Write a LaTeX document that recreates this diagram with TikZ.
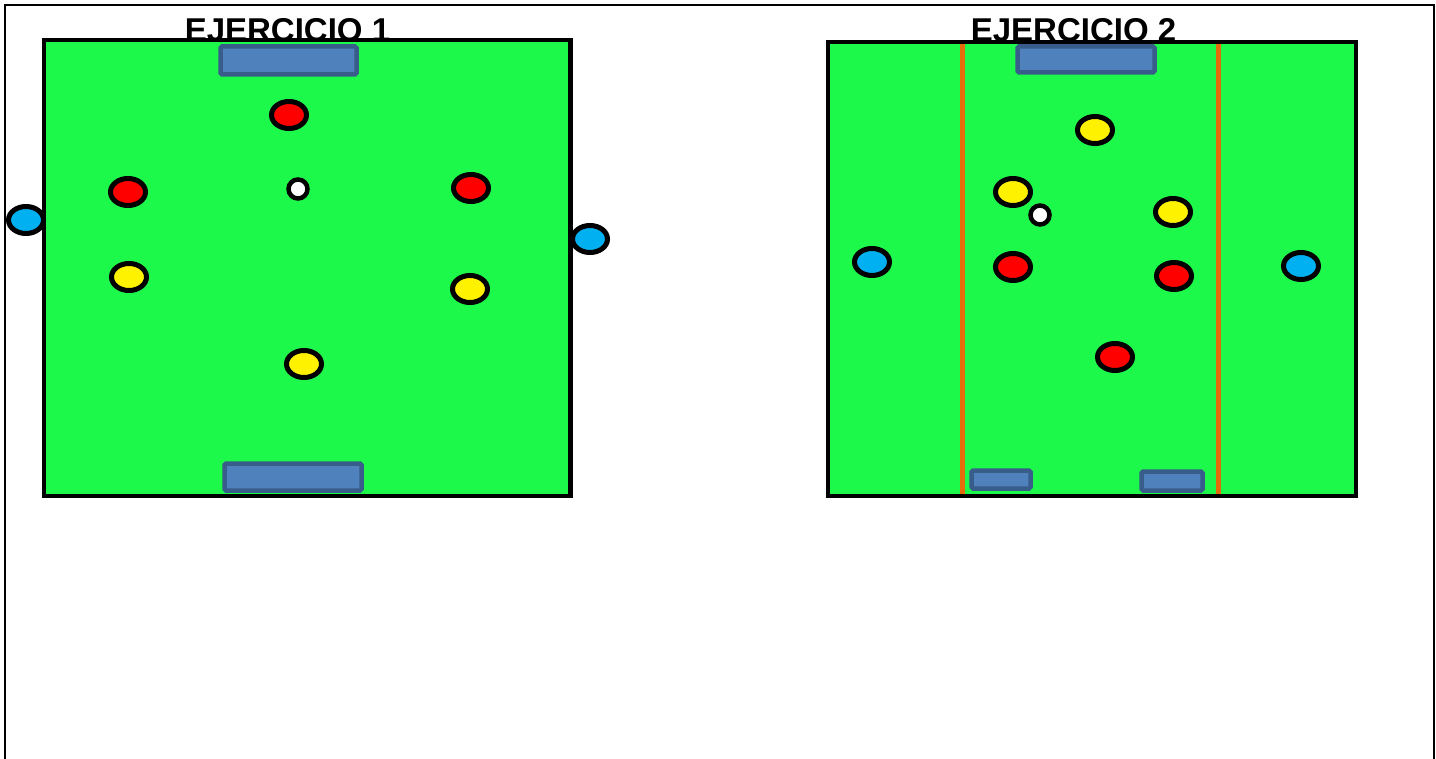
\documentclass[tikz,border=0pt]{standalone}
\usepackage{fontspec}
\setmainfont{Liberation Sans}
\usetikzlibrary{shapes.geometric}
\definecolor{fieldgreen}{RGB}{29,249,74}
\definecolor{goalfill}{RGB}{79,129,189}
\definecolor{goalline}{RGB}{56,93,138}
\definecolor{playerblue}{RGB}{0,176,240}
\definecolor{linorange}{RGB}{228,108,10}
\tikzset{
  frameline/.style={line width=2pt, draw=black},
  field/.style={fill=fieldgreen, draw=black, line width=4.8pt},
  goalbox/.style={fill=goalfill, draw=goalline, line width=4.5pt, rounded corners=1.5pt},
  lane/.style={draw=linorange, line width=5pt},
  player/.style={ellipse, draw=black, line width=5pt, minimum width=35pt, minimum height=27pt, inner sep=0pt},
  redp/.style={player, fill=red},
  yellowp/.style={player, fill=yellow},
  bluep/.style={player, fill=playerblue},
  ball/.style={circle, draw=black, fill=white, line width=4.5pt, minimum size=19pt, inner sep=0pt},
  title/.style={font=\fontsize{33}{33}\selectfont\bfseries, anchor=base, inner sep=0pt}
}
\begin{document}
\begin{tikzpicture}[x=1pt,y=-1pt]
\useasboundingbox (0,0) rectangle (1436,759);
\fill[white] (0,0) rectangle (1436,759);
\draw[frameline] (4.5,760) -- (4.5,5) -- (1433.5,5) -- (1433.5,760);

% titles
\node[title] (t1) at (287.5,42) {EJERCICIO 1};
\node[title] (t2) at (1073.5,42) {EJERCICIO 2};

% field 1
\draw[field] (44,40) rectangle (570.5,496);
\draw[goalbox] (220.5,46.5) rectangle (356.5,74.5);
\draw[goalbox] (224.5,463.5) rectangle (361.5,490.5);

\node[redp] (r1) at (289,115) {};
\node[redp] (r2) at (128,192) {};
\node[redp] (r3) at (471,188) {};
\node[ball] (b1) at (298,189) {};
\node[yellowp] (y1) at (129,277) {};
\node[yellowp] (y2) at (470,289) {};
\node[yellowp] (y3) at (304,364) {};
\node[bluep] (c1) at (26,220) {};
\node[bluep] (c2) at (590,239) {};

% field 2
\draw[field] (828,42) rectangle (1356,496);
\draw[lane] (962.5,44.5) -- (962.5,493.5);
\draw[lane] (1218,44.5) -- (1218,493.5);
\draw[goalbox] (1017.5,46.5) rectangle (1154.5,72.5);
\draw[goalbox] (971.5,470.5) rectangle (1030.5,488.5);
\draw[goalbox] (1141.5,471.5) rectangle (1202.5,490.5);

\node[yellowp] (y4) at (1095,130) {};
\node[yellowp] (y5) at (1013,192) {};
\node[yellowp] (y6) at (1173,212) {};
\node[ball] (b2) at (1040,215) {};
\node[redp] (r4) at (1013,267) {};
\node[redp] (r5) at (1174,276) {};
\node[redp] (r6) at (1115,357) {};
\node[bluep] (c3) at (872,262) {};
\node[bluep] (c4) at (1301,266) {};
\end{tikzpicture}
\end{document}
